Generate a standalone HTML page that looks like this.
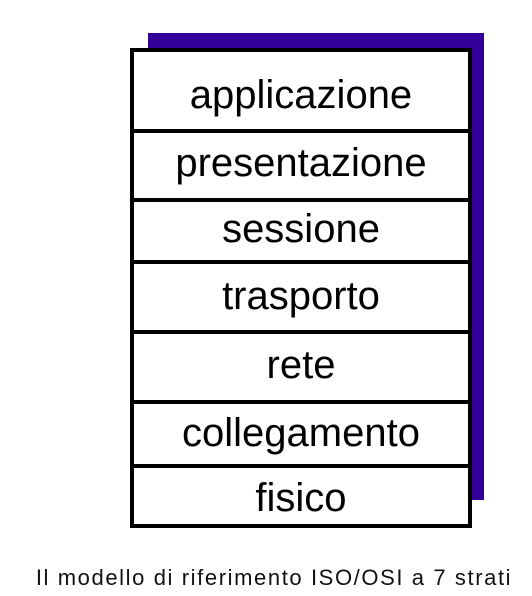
<!DOCTYPE html>
<html><head><style>
body{margin:0;width:532px;height:596px;background:#fff;overflow:hidden;position:relative;font-family:"Liberation Sans",Arial,sans-serif}
.p{position:absolute;left:148px;top:33px;width:336px;height:467px;background:#330099}
.b{position:absolute;left:130px;top:48px;width:334px;height:472px;border:4px solid #000;background:#fff}
.l{position:absolute;left:0;width:334px;height:3.5px;background:#000}
.t{position:absolute;left:0;width:334px;text-align:center;font-size:40px;line-height:40px}
.c{position:absolute;left:8px;width:532px;top:566px;text-align:center;font-size:22px;line-height:24px;letter-spacing:1.6px;color:#111}
</style></head><body>
<div class="p"></div>
<div class="b">
<div class="l" style="top:77px"></div>
<div class="l" style="top:146px"></div>
<div class="l" style="top:208px"></div>
<div class="l" style="top:278px"></div>
<div class="l" style="top:348px"></div>
<div class="l" style="top:412px"></div>
<div class="t" style="top:23px">applicazione</div>
<div class="t" style="top:91px">presentazione</div>
<div class="t" style="top:157px">sessione</div>
<div class="t" style="top:224px">trasporto</div>
<div class="t" style="top:293px">rete</div>
<div class="t" style="top:361px">collegamento</div>
<div class="t" style="top:426px">fisico</div>
</div>
<div class="c">Il modello di riferimento ISO/OSI a 7 strati</div>
</body></html>
